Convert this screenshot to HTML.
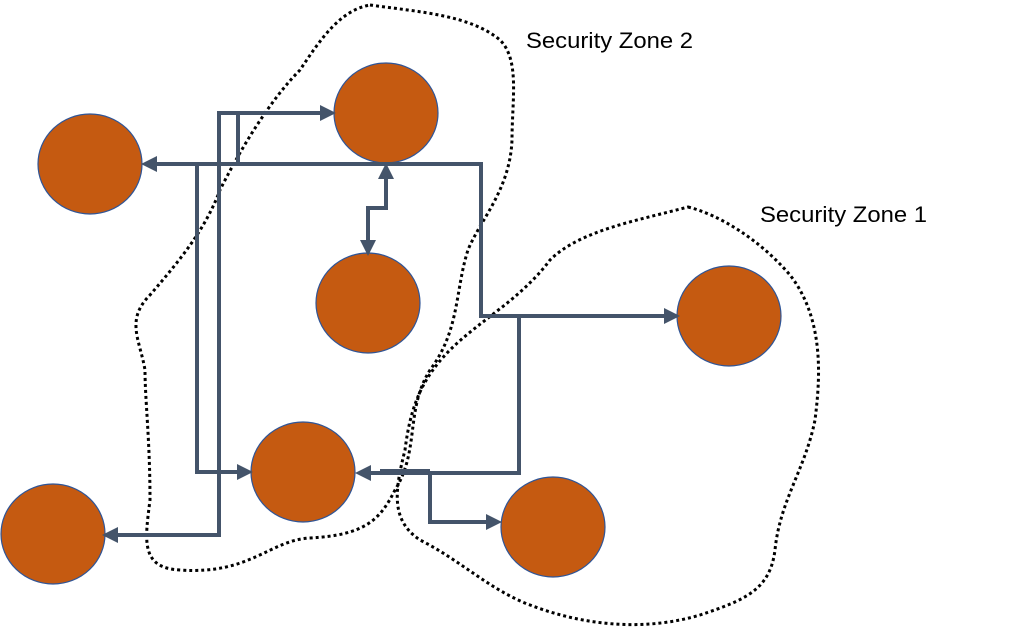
<!DOCTYPE html>
<html><head><style>html,body{margin:0;padding:0;background:#fff}</style></head>
<body>
<svg width="1024" height="628" xmlns="http://www.w3.org/2000/svg" font-family="Liberation Sans, sans-serif">
<defs>
<marker id="ah" markerWidth="4" markerHeight="4" refX="3" refY="2" orient="auto" markerUnits="strokeWidth">
<path d="M0,0 L4,2 L0,4 Z" fill="#44546a"/></marker>
<marker id="as" markerWidth="4" markerHeight="4" refX="3" refY="2" orient="auto-start-reverse" markerUnits="strokeWidth">
<path d="M0,0 L4,2 L0,4 Z" fill="#44546a"/></marker>
</defs>
<g fill="none" stroke="#000" stroke-width="3" stroke-dasharray="3,3">
<path d="M370,5 C420,12 470,15 500,40 C520,60 512,100 512,140 C510,190 480,220 468,250 C455,290 460,330 430,370 C405,410 420,450 395,490 C380,520 365,535 310,538 C270,540 250,575 180,570 C140,568 145,540 150,500 C150,440 145,400 145,370 C140,340 125,320 150,295 C180,260 205,230 220,190 C240,150 270,100 300,70 C320,40 340,10 370,5 Z"/>
<path d="M688,207 C720,215 760,240 790,275 C825,320 820,380 815,420 C805,470 780,500 775,550 C770,590 745,600 700,615 C650,630 590,628 530,605 C490,590 460,560 420,540 C390,520 395,490 405,450 C410,410 420,380 450,350 C480,320 520,300 550,260 C580,230 640,220 688,207 Z"/>
</g>
<g fill="#c55a11" stroke="#2f5597" stroke-width="1.2">
<ellipse cx="90" cy="164" rx="52" ry="50"/>
<ellipse cx="386" cy="113" rx="52" ry="50"/>
<ellipse cx="368" cy="303" rx="52" ry="50"/>
<ellipse cx="303" cy="472" rx="52" ry="50"/>
<ellipse cx="53" cy="534" rx="52" ry="50"/>
<ellipse cx="553" cy="527" rx="52" ry="50"/>
<ellipse cx="729" cy="316" rx="52" ry="50"/>
</g>
<g fill="none" stroke="#44546a" stroke-width="4">
<path d="M676,316 L481,316 L481,164 L145,164" marker-end="url(#ah)" marker-start="url(#as)"/>
<path d="M197,164 L197,472 L249,472" marker-end="url(#ah)"/>
<path d="M238,164 L238,113"/>
<path d="M106,535 L219,535 L219,113 L332,113" marker-end="url(#ah)" marker-start="url(#as)"/>
<path d="M386,167 L386,208 L368,208 L368,252" marker-end="url(#ah)" marker-start="url(#as)"/>
<path d="M519,316 L519,473 L359,473" marker-end="url(#ah)"/>
<path d="M380,472 L430,472" stroke-width="6"/>
<path d="M430,472 L430,522 L498,522" marker-end="url(#ah)"/>
</g>
<text x="526" y="48" font-size="22" textLength="167" lengthAdjust="spacingAndGlyphs" fill="#000">Security Zone 2</text>
<text x="760" y="222" font-size="22" textLength="167" lengthAdjust="spacingAndGlyphs" fill="#000">Security Zone 1</text>
</svg>
</body></html>
